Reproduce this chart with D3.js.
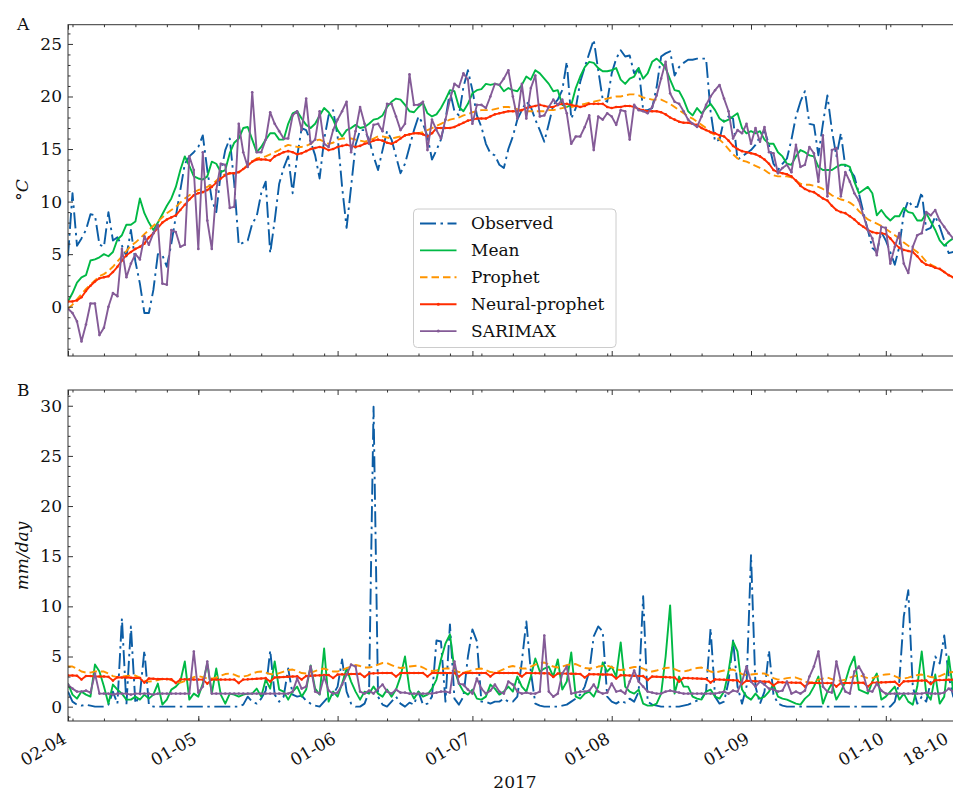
<!DOCTYPE html>
<html><head><meta charset="utf-8">
<script src="https://cdn.jsdelivr.net/npm/d3@7"></script>
<style>body{margin:0;background:#fff}svg{display:block}text{font-family:"DejaVu Serif",serif;fill:#111}</style>
</head><body><svg id="c" width="953" height="793"></svg>
<script>
// ---------------- DATA ----------------
const startDate = "2017-04-02";
const endDate = "2017-10-18";
const seriesNames = ["Observed", "Mean", "Prophet", "Neural-prophet", "SARIMAX"];
const seriesColors = ["#0C5DA5", "#00B945", "#FF9500", "#FF2C00", "#845B97"];
const xTickDates = ["2017-04-02", "2017-05-01", "2017-06-01", "2017-07-01", "2017-08-01", "2017-09-01", "2017-10-01", "2017-10-18"];
const xTickLabels = ["02-04", "01-05", "01-06", "01-07", "01-08", "01-09", "01-10", "18-10"];
const tempTicks = [0, 5, 10, 15, 20, 25];
const precipTicks = [0, 5, 10, 15, 20, 25, 30];

const tempObserved = [4.8,10.8,5.8,6.5,7.3,8.8,8.7,5.9,5.7,9.0, 6.3,6.6,5.8,4.8,7.3,4.3,2.2,-0.6,-0.6,1.6, 5.0,4.9,3.8,6.0,8.6,11.1,13.6,14.3,14.7,15.2, 16.3,13.0,10.2,9.0,12.7,14.9,16.0,11.7,5.9,6.1, 6.3,7.9,8.6,10.8,11.9,5.1,8.2,11.7,13.2,14.3, 10.8,14.3,17.0,16.8,15.7,14.4,12.2,15.9,18.2,18.7, 16.2,11.4,7.5,11.4,15.4,16.8,16.8,15.9,14.3,13.0, 14.9,16.7,15.9,14.3,12.7,13.6,15.2,16.8,18.1,17.4, 16.2,14.0,14.9,15.9,17.8,20.5,18.6,18.2,20.9,22.5, 20.6,18.2,17.1,15.5,14.6,14.4,13.5,13.2,15.0,16.2, 17.8,18.7,19.5,19.0,17.8,16.8,15.7,17.4,19.2,19.7, 20.6,23.3,17.9,18.9,21.4,22.8,24.1,25.4,22.5,19.7, 19.5,22.2,23.6,24.4,23.8,23.9,22.2,22.7,18.7,18.7, 18.9,20.9,23.8,24.1,24.3,22.0,22.8,23.2,23.5,23.5, 23.6,23.6,23.6,18.6,15.7,15.9,17.8,18.1,17.9,14.0, 14.3,14.6,14.9,15.4,16.2,16.8,15.4,13.6,13.0,13.6, 14.1,15.9,18.1,19.5,20.5,17.4,17.3,14.4,17.4,20.1, 16.8,14.3,16.5,13.3,13.0,12.4,10.8,9.0,7.3,5.6, 5.2,7.1,6.3,5.2,4.0,5.7,8.9,10.1,9.5,9.5, 10.9,7.3,7.5,8.6,7.6,6.3,5.1,5.2,5.0];
const tempMean = [0.5,1.3,2.3,2.8,3.0,4.4,4.5,4.7,5.0,4.8, 5.2,6.4,6.8,7.8,7.8,8.1,10.3,8.9,8.0,7.3, 8.0,8.8,9.6,10.3,11.4,13.0,14.3,13.4,12.4,12.2, 12.1,12.4,13.8,13.6,12.8,13.0,14.6,15.6,16.0,17.0, 17.1,15.9,14.7,15.2,15.9,16.5,16.5,15.9,15.9,17.4, 18.4,18.6,17.9,17.3,17.0,17.4,18.2,18.9,18.5,17.8, 16.8,16.2,16.8,17.0,17.3,17.0,17.1,17.4,17.8,17.9, 18.2,19.0,19.5,19.8,19.7,19.2,18.6,18.5,19.0,19.4, 18.4,18.1,18.3,18.9,19.7,20.6,20.5,19.0,18.6,19.3, 20.3,20.6,20.7,21.2,21.1,21.2,21.1,20.5,20.8,20.6, 20.5,21.1,21.9,21.6,22.5,22.2,21.7,21.2,20.5,20.6, 19.2,19.0,19.2,20.8,21.9,22.8,23.3,23.2,22.7,22.4, 22.4,22.5,22.7,21.6,21.2,21.7,21.9,22.7,21.7,22.2, 23.3,23.6,23.2,22.7,21.6,20.6,20.5,19.7,18.6,18.2, 18.9,18.4,18.9,19.3,18.7,17.9,17.6,17.8,18.1,18.4, 17.0,16.5,16.7,16.5,16.7,15.9,15.5,15.5,14.7,14.3, 13.6,13.5,14.3,14.9,14.7,14.4,14.3,13.3,13.0,13.0, 13.0,13.3,13.5,13.5,13.3,11.9,10.8,11.1,11.4,10.8, 8.7,9.2,8.6,8.2,8.6,8.6,9.4,9.0,8.9,8.2, 8.2,8.9,8.1,7.3,6.3,5.8,6.2,6.5,6.3];
const tempProphet = [-0.2,0.2,0.7,1.2,1.7,2.1,2.5,2.9,3.1,3.4, 3.8,4.3,4.8,5.3,5.8,6.1,6.5,6.9,7.3,7.7, 8.1,8.5,8.9,9.2,9.5,9.9,10.3,10.6,10.9,11.1, 11.2,11.4,11.6,12.0,12.4,12.6,12.7,12.7,12.8,13.1, 13.5,13.8,14.1,14.2,14.3,14.5,14.7,14.9,15.2,15.4, 15.3,15.2,15.2,15.3,15.5,15.8,15.9,15.7,15.5,15.6, 15.9,16.0,16.0,16.0,15.9,15.8,15.7,15.8,16.0,16.2, 16.2,16.1,16.0,16.1,16.2,16.3,16.4,16.5,16.5,16.6, 16.8,17.0,17.2,17.4,17.6,17.8,17.9,18.0,18.2,18.3, 18.5,18.6,18.7,18.7,18.7,18.8,18.9,19.0,19.0,18.9, 18.8,18.7,18.6,18.6,18.6,18.6,18.6,18.7,18.7,18.8, 18.9,19.0,19.0,19.1,19.2,19.3,19.4,19.5,19.6,19.7, 19.8,19.9,20.0,20.0,20.1,20.2,20.2,20.1,19.9,19.8, 19.7,19.7,19.7,19.5,19.3,19.0,18.7,18.4,18.1,17.9, 17.6,17.3,17.0,16.6,16.3,15.9,15.5,15.0,14.5,14.1, 13.9,13.8,13.6,13.4,13.2,13.0,12.7,12.5,12.4,12.4, 12.4,12.3,12.0,11.7,11.6,11.6,11.5,11.4,11.2,10.9, 10.6,10.4,10.2,10.1,9.9,9.6,9.1,8.7,8.3,8.1, 7.9,7.7,7.4,7.1,6.8,6.5,6.1,5.8,5.5,5.2, 4.8,4.3,4.0,3.8,3.6,3.3,3.0,2.8,2.6];
const tempNeural = [0.5,0.5,0.6,0.9,1.5,2.0,2.4,2.7,2.8,2.9, 3.3,3.8,4.4,4.9,5.2,5.5,5.7,6.0,6.6,7.0, 7.5,8.0,8.3,8.5,8.7,9.2,9.7,10.2,10.6,10.8, 10.9,11.1,11.4,11.8,12.2,12.5,12.7,12.7,12.8,13.1, 13.4,13.8,14.0,14.0,14.0,13.9,14.3,14.5,14.7,14.8, 14.7,14.5,14.6,14.8,15.0,15.1,15.2,15.1,14.9,15.0, 15.2,15.3,15.4,15.3,15.2,15.3,15.5,15.6,15.8,15.9, 15.8,15.6,15.5,15.7,16.0,16.3,16.4,16.5,16.5,16.4, 16.2,16.5,17.0,17.0,17.0,17.0,17.1,17.3,17.5,17.7, 17.8,17.9,17.9,17.9,18.1,18.3,18.4,18.5,18.6,18.6, 18.6,18.7,18.9,19.0,19.1,19.2,19.1,19.0,19.0,19.2, 19.3,19.3,19.2,19.1,19.0,19.1,19.3,19.3,19.3,19.3, 19.0,18.9,19.0,19.0,19.1,19.1,19.0,18.8,18.7,18.6, 18.6,18.6,18.5,18.3,18.0,17.8,17.6,17.5,17.5,17.4, 17.3,17.0,16.8,16.6,16.5,16.3,16.2,15.8,15.3,15.0, 14.8,14.7,14.6,14.5,14.3,14.0,13.6,13.0,12.8,12.7, 12.6,12.4,12.0,11.5,11.2,11.0,10.9,10.6,10.3,10.1, 9.6,9.2,9.0,8.9,8.6,8.3,7.9,7.6,7.3,7.1, 7.0,7.0,6.9,6.5,6.0,5.6,5.4,5.3,5.2,4.8, 4.3,4.0,3.9,3.7,3.6,3.3,3.0,2.8,2.7];
const tempSarimax = [-0.2,-0.6,-1.4,-3.3,-1.7,0.3,0.3,-2.7,-2.0,0.0, 1.3,1.0,5.5,2.8,4.1,5.0,4.5,6.7,5.9,7.0, 7.8,2.2,2.1,7.3,7.1,5.7,5.9,14.3,13.0,5.5, 14.7,8.2,5.5,11.1,13.6,13.5,9.4,9.5,17.4,14.7, 13.3,20.4,14.7,14.7,15.9,18.5,17.4,16.7,16.0,16.0, 18.2,18.6,16.8,19.8,15.5,15.9,18.6,15.5,15.2,16.8, 17.8,18.6,19.5,14.7,16.7,19.0,17.4,15.5,17.3,17.4, 16.7,19.3,19.3,18.1,16.8,17.4,22.1,19.2,19.2,19.5, 14.9,17.8,16.8,16.0,17.8,19.7,21.2,20.9,22.2,21.6, 17.4,19.2,19.2,18.9,20.0,21.2,21.1,21.7,22.5,20.0, 17.9,21.2,17.9,20.8,22.0,18.1,18.2,19.0,19.7,19.2, 19.7,18.4,15.5,16.2,16.2,17.1,18.2,14.9,18.1,17.8, 18.4,18.1,17.3,18.7,18.6,15.9,19.2,18.7,18.6,18.4, 19.0,20.1,21.7,23.3,20.3,19.5,19.3,18.6,17.8,17.4, 17.1,18.1,19.2,20.0,20.6,21.1,19.8,18.6,16.0,16.8, 16.5,17.4,15.5,17.0,15.7,17.1,14.7,14.6,12.7,13.2, 13.5,12.8,15.4,13.3,13.5,15.2,14.6,11.9,16.3,10.5, 14.9,15.1,10.5,12.8,11.9,10.8,10.1,8.7,7.3,6.5, 4.9,7.6,7.5,4.1,5.7,7.0,4.1,3.2,5.7,6.8, 7.0,9.0,8.7,9.2,8.2,7.6,7.0,6.5,6.3];

const precipObserved = [1.5,0.5,0.2,0.1,0.2,0.1,0.0,0.0,0.0,0.2, 1.5,0.3,8.8,0.2,8.0,0.3,1.2,5.6,0.2,0.0, 0,0,0,0,0,0,0,0,0,0, 0,0,0,0,0,0,0,0,0,0.2, 1.0,0.5,0.3,0.8,1.6,5.6,1.2,0.5,1.0,3.8, 1.2,1.0,1.1,0.6,0.3,0.1,0.0,0.5,1.0,1.2, 2.0,4.7,1.5,0.3,0.0,0.0,0.3,1.5,29.9,1.0, 0.2,0.0,0.5,1.0,0.3,0.0,0.4,0.2,1.5,0.2, 0.3,1.0,6.6,6.5,0.5,8.2,0.8,0.2,1.0,5.0, 7.7,6.5,0.5,0.5,0.3,0.5,0.5,0.8,0.5,0.5, 1.0,4.5,8.5,3.5,0.3,0.1,0,0,0,0, 0.1,0.2,0.5,0.8,1.2,2.0,3.5,7.0,8.0,7.5, 1.0,0.5,0.3,0.6,0.4,0.8,0.5,1.5,11.0,0.5, 0.2,0.1,0,0,0,0,0,0.1,0.2,0.4, 0.6,0.8,1.5,7.8,1.0,0.3,0.5,2.5,6.6,2.0, 0.3,2.0,15.1,2.0,0.3,1.5,5.6,1.2,0.3,0.1, 0,0,0,0,0,0,0,0,0,0, 0,0,0,0,0,0,0,0,0,0, 0,0,0,0,0.5,2.5,9.0,11.6,2.0,0.3, 1.0,0.5,2.5,5.0,4.3,7.1,3.0,1.0,0.5];
const precipMean = [2.3,1.2,0.8,1.5,1.2,1.0,4.2,3.5,2.0,0.3, 2.2,1.7,1.3,0.7,0.7,1.0,0.7,1.2,0.8,1.2, 2.3,0.2,0.7,1.7,2.0,2.5,4.5,0.7,1.3,1.0, 2.3,4.3,1.3,3.8,1.2,0.3,1.3,1.2,1.0,1.2, 1.3,1.3,1.8,1.0,2.7,1.8,4.5,1.7,1.5,0.7, 1.5,2.0,1.0,1.7,4.1,1.8,1.2,5.8,0.5,1.5, 1.0,2.3,3.8,2.5,1.5,0.7,1.5,1.3,2.0,1.3, 1.0,1.7,1.0,1.7,3.0,5.0,1.7,0.8,1.5,1.0, 1.2,1.8,2.7,4.7,6.3,7.2,3.7,2.3,1.5,1.2, 1.7,0.8,0.7,1.0,2.2,1.8,1.2,1.5,2.0,1.5, 3.0,2.0,1.5,3.0,4.8,3.5,3.8,4.0,3.0,4.7, 1.7,2.5,5.4,1.0,0.8,1.3,1.5,1.0,2.0,4.4, 3.5,4.0,3.0,6.4,2.0,1.5,1.3,1.7,0.3,0.1, 0.1,0.3,1.3,5.0,10.1,1.3,3.0,2.0,2.0,1.0, 0.8,0.7,1.5,1.7,1.0,0.8,1.5,3.5,6.5,5.5, 1.7,1.0,0.7,1.3,0.8,1.0,1.5,2.2,1.0,0.8, 0.7,0.5,0.3,0.2,0.8,1.2,2.0,3.0,0.3,1.5, 2.3,0.7,1.5,2.5,4.0,5.0,1.7,1.5,1.3,2.5, 3.3,0.7,1.0,1.5,2.0,0.7,1.3,0.5,0.2,2.0, 5.5,1.3,0.7,3.2,0.3,1.0,5.0,1.5,1.8];
const precipProphet = [4.0,4.0,3.8,3.5,3.4,3.4,3.5,3.5,3.5,3.3, 3.05,2.95,3.0,3.05,3.1,3.1,2.9,2.6,2.5,2.55, 2.65,2.75,2.8,2.65,2.45,2.4,2.55,2.75,2.95,3.05, 2.95,2.8,2.8,2.9,3.1,3.25,3.3,3.2,3.0,3.0, 3.1,3.3,3.45,3.5,3.4,3.25,3.2,3.35,3.5,3.65, 3.7,3.55,3.35,3.3,3.4,3.55,3.7,3.8,3.65,3.5, 3.5,3.65,3.85,4.0,4.15,4.05,3.9,3.9,4.0,4.2, 4.35,4.35,4.15,3.95,3.85,3.9,4.0,4.05,4.1,3.9, 3.65,3.55,3.6,3.75,3.8,3.8,3.65,3.45,3.4,3.5, 3.65,3.75,3.8,3.65,3.45,3.4,3.55,3.75,3.95,4.05, 3.95,3.8,3.8,4.0,4.2,4.35,4.4,4.2,4.0,3.9, 4.0,4.15,4.2,4.25,4.05,3.85,3.8,3.85,4.0,4.05, 4.1,3.95,3.7,3.65,3.7,3.85,3.95,3.95,3.8,3.55, 3.5,3.6,3.75,3.85,3.9,3.75,3.55,3.5,3.6,3.75, 3.85,3.9,3.7,3.5,3.4,3.5,3.6,3.65,3.7,3.5, 3.25,3.15,3.2,3.25,3.3,3.3,3.1,2.85,2.7,2.75, 2.85,2.9,2.9,2.75,2.5,2.4,2.5,2.7,2.8,2.9, 2.75,2.6,2.6,2.7,2.9,3.05,3.15,3.0,2.85,2.85, 3.0,3.15,3.2,3.25,3.05,2.85,2.8,2.9,3.05,3.15, 3.2,3.1,2.95,2.9,3.05,3.25,3.4,3.45,3.35];
const precipNeural = [3.1,3.1,3.08,2.7,3.05,3.05,3.0,3.0,3.0,2.97, 2.6,2.93,2.9,2.9,2.88,2.85,2.85,2.4,2.8,2.78, 2.75,2.75,2.74,2.73,2.35,2.72,2.72,2.71,2.7,2.7, 2.7,2.3,2.7,2.7,2.7,2.7,2.7,2.7,2.35,2.7, 2.72,2.75,2.78,2.81,2.84,2.5,2.9,2.93,2.96,2.98, 3.0,3.02,2.7,3.06,3.08,3.1,3.12,3.14,3.16,2.85, 3.2,3.22,3.23,3.25,3.26,3.28,2.95,3.31,3.32,3.34, 3.35,3.35,3.35,3.0,3.35,3.36,3.36,3.35,3.35,3.36, 3.0,3.35,3.36,3.36,3.35,3.35,3.36,3.0,3.35,3.35, 3.36,3.36,3.35,3.35,3.0,3.35,3.35,3.36,3.35,3.35, 3.35,3.0,3.35,3.34,3.34,3.33,3.33,3.32,2.95,3.31, 3.3,3.29,3.28,3.27,3.26,2.9,3.24,3.23,3.22,3.21, 3.2,3.18,2.8,3.14,3.12,3.1,3.08,3.06,3.04,2.65, 3.0,2.98,2.96,2.94,2.92,2.9,2.5,2.86,2.84,2.82, 2.8,2.78,2.76,2.4,2.72,2.7,2.68,2.66,2.64,2.62, 2.25,2.58,2.56,2.54,2.52,2.5,2.48,2.1,2.44,2.42, 2.4,2.4,2.39,2.38,2.0,2.37,2.36,2.36,2.35,2.35, 2.35,2.0,2.35,2.36,2.36,2.37,2.38,2.39,2.0,2.4, 2.4,2.42,2.44,2.46,2.48,2.1,2.52,2.54,2.56,2.58, 2.6,2.61,2.25,2.64,2.65,2.66,2.68,2.69,2.7];
const precipSarimax = [2.2,1.8,1.5,1.5,1.6,1.4,3.3,1.3,1.3,1.3, 1.2,1.3,1.3,1.3,1.2,1.3,1.3,1.3,1.3,1.2, 1.3,1.3,1.3,1.3,1.3,1.3,1.3,1.3,5.5,1.4, 2.0,4.5,1.3,1.3,1.3,1.3,1.3,1.3,1.3,1.3, 1.3,1.3,1.3,1.3,1.3,1.3,1.3,1.3,1.3,1.3, 1.5,2.8,1.8,2.0,4.0,1.5,1.3,3.0,1.6,1.3, 1.4,2.2,3.2,4.2,4.0,1.5,1.3,1.6,1.3,1.8, 2.2,1.5,1.3,1.7,1.4,1.4,1.3,1.3,1.3,1.3, 1.3,1.3,1.4,1.5,1.5,1.4,4.5,2.3,2.2,1.7, 1.3,2.8,1.8,1.3,1.6,2.2,1.5,1.3,2.5,2.2, 1.5,1.3,1.4,1.3,1.3,1.5,7.1,1.5,1.0,1.3, 3.3,4.0,1.3,1.4,1.5,1.5,1.6,2.2,1.5,1.3, 1.4,2.3,1.5,1.6,1.3,2.5,3.6,2.5,2.0,1.5, 1.4,1.3,1.3,1.5,1.6,1.5,1.4,1.3,1.3,1.3, 1.3,1.3,1.3,1.3,1.3,1.4,1.5,1.3,1.6,1.5, 2.5,4.0,2.5,2.0,2.5,2.2,1.8,1.7,1.5,1.6, 2.5,1.3,1.5,1.3,1.6,3.0,4.0,5.5,2.0,1.5, 1.4,4.5,2.5,1.5,1.3,3.5,4.0,3.2,1.6,1.5, 2.3,1.6,1.3,1.3,1.3,1.3,1.3,1.3,1.3,1.3, 1.3,1.4,1.3,1.3,1.3,1.4,1.8,1.5,1.4];

// ---------------- DRAW ----------------
const W = 953, H = 793, FS = 17;
const svg = d3.select("#c");
svg.append("rect").attr("width", W).attr("height", H).attr("fill", "#fff");
const parse = d3.utcParse("%Y-%m-%d");
const t0 = parse(startDate), t1 = parse(endDate);
const x = d3.scaleUtc().domain([t0, t1]).range([68, 962.2]);
const majorDates = xTickDates.map(parse);
const minorDates = d3.utcMonday.range(t0, d3.utcDay.offset(t1, 1));

const styles = [
  {dash: "16,4.5,2.5,4.5", marker: false},
  {dash: null, marker: false},
  {dash: "7.5,4", marker: false},
  {dash: null, marker: true},
  {dash: null, marker: true}
];

const panels = [
  {top: 24.7, bottom: 356, domain: [-4.69, 26.83], ticks: tempTicks, minor: d3.range(-4, 27),
   data: [tempObserved, tempMean, tempProphet, tempNeural, tempSarimax], letter: "A", xlabels: false},
  {top: 390, bottom: 721, domain: [-1.43, 31.57], ticks: precipTicks, minor: d3.range(-1, 32),
   data: [precipObserved, precipMean, precipProphet, precipNeural, precipSarimax], letter: "B", xlabels: true}
];

panels.forEach((p, pi) => {
  const y = d3.scaleLinear().domain(p.domain).range([p.bottom, p.top]);
  const g = svg.append("g");
  const cid = "clip" + pi;
  svg.append("clipPath").attr("id", cid).append("rect")
    .attr("x", 68).attr("y", p.top).attr("width", 962.2 - 68).attr("height", p.bottom - p.top);
  const lg = g.append("g").attr("clip-path", `url(#${cid})`);
  p.data.forEach((arr, si) => {
    const pts = arr.map((v, i) => [d3.utcDay.offset(t0, i), v]);
    const line = d3.line().x(d => x(d[0])).y(d => y(d[1]));
    const path = lg.append("path").datum(pts).attr("d", line)
      .attr("fill", "none").attr("stroke", seriesColors[si]).attr("stroke-width", 1.9)
      .attr("stroke-linejoin", "round");
    if (styles[si].dash) path.attr("stroke-dasharray", styles[si].dash);
    if (styles[si].marker) {
      lg.append("g").selectAll("circle").data(pts).join("circle")
        .attr("cx", d => x(d[0])).attr("cy", d => y(d[1])).attr("r", 1.3)
        .attr("fill", seriesColors[si]);
    }
  });

  const axL = g.append("g").attr("transform", "translate(68,0)")
    .call(d3.axisLeft(y).tickValues(p.ticks).tickSizeInner(-5).tickSizeOuter(0).tickPadding(6));
  const axLm = g.append("g").attr("transform", "translate(68,0)")
    .call(d3.axisLeft(y).tickValues(p.minor.filter(v => v % 5 !== 0)).tickSize(-2.5).tickFormat(""));
  const axB = g.append("g").attr("transform", `translate(0,${p.bottom})`)
    .call(d3.axisBottom(x).tickValues(majorDates).tickSizeInner(-5).tickSizeOuter(0)
      .tickFormat((d, i) => p.xlabels ? xTickLabels[i] : ""));
  const axBm = g.append("g").attr("transform", `translate(0,${p.bottom})`)
    .call(d3.axisBottom(x).tickValues(minorDates).tickSize(-2.5).tickFormat(""));
  const axT = g.append("g").attr("transform", `translate(0,${p.top})`)
    .call(d3.axisTop(x).tickValues(majorDates).tickSize(-5).tickFormat(""));
  const axTm = g.append("g").attr("transform", `translate(0,${p.top})`)
    .call(d3.axisTop(x).tickValues(minorDates).tickSize(-2.5).tickFormat(""));
  [axL, axLm, axB, axBm, axT, axTm].forEach(a => {
    a.select(".domain").remove();
    a.selectAll("line").attr("stroke", "#333").attr("stroke-width", 1);
    a.selectAll("text").attr("font-family", "DejaVu Serif").attr("font-size", FS).attr("fill", "#111");
  });
  if (p.xlabels) {
    const n = xTickLabels.length;
    axB.selectAll("text").each(function(d, i) {
      const dx = (i === n - 1) ? -13 : -1;
      d3.select(this).attr("text-anchor", "end").attr("x", dx).attr("y", 21).attr("dy", null)
        .attr("transform", `rotate(-30,${dx},21)`);
    });
  }
  g.append("rect").attr("x", 68).attr("y", p.top).attr("width", 962.2 - 68).attr("height", p.bottom - p.top)
    .attr("fill", "none").attr("stroke", "#333").attr("stroke-width", 1);
  g.append("text").attr("x", 17).attr("y", p.top + 5.5).attr("font-size", FS).text(p.letter);
});

const yl1 = svg.append("text").attr("transform", "translate(28,190) rotate(-90)")
  .attr("text-anchor", "middle").attr("font-size", FS);
yl1.append("tspan").text("°");
yl1.append("tspan").attr("font-style", "italic").text("C");
svg.append("text").attr("transform", "translate(28,556) rotate(-90)")
  .attr("text-anchor", "middle").attr("font-size", FS).attr("font-style", "italic").text("mm/day");
svg.append("text").attr("x", 515).attr("y", 788).attr("text-anchor", "middle").attr("font-size", FS).text("2017");

const leg = svg.append("g");
leg.append("rect").attr("x", 413.5).attr("y", 209).attr("width", 202.5).attr("height", 138.5)
  .attr("rx", 4).attr("fill", "#fff").attr("fill-opacity", 0.85).attr("stroke", "#ccc").attr("stroke-width", 1);
seriesNames.forEach((n, i) => {
  const yy = 223.5 + i * 26.9;
  const l = leg.append("line").attr("x1", 420).attr("x2", 456.5).attr("y1", yy).attr("y2", yy)
    .attr("stroke", seriesColors[i]).attr("stroke-width", 1.9);
  if (styles[i].dash) l.attr("stroke-dasharray", styles[i].dash);
  if (styles[i].marker) leg.append("circle").attr("cx", 438.3).attr("cy", yy).attr("r", 1.5).attr("fill", seriesColors[i]);
  leg.append("text").attr("x", 471).attr("y", yy).attr("dy", "0.35em").attr("font-size", FS).text(n);
});
</script></body></html>
